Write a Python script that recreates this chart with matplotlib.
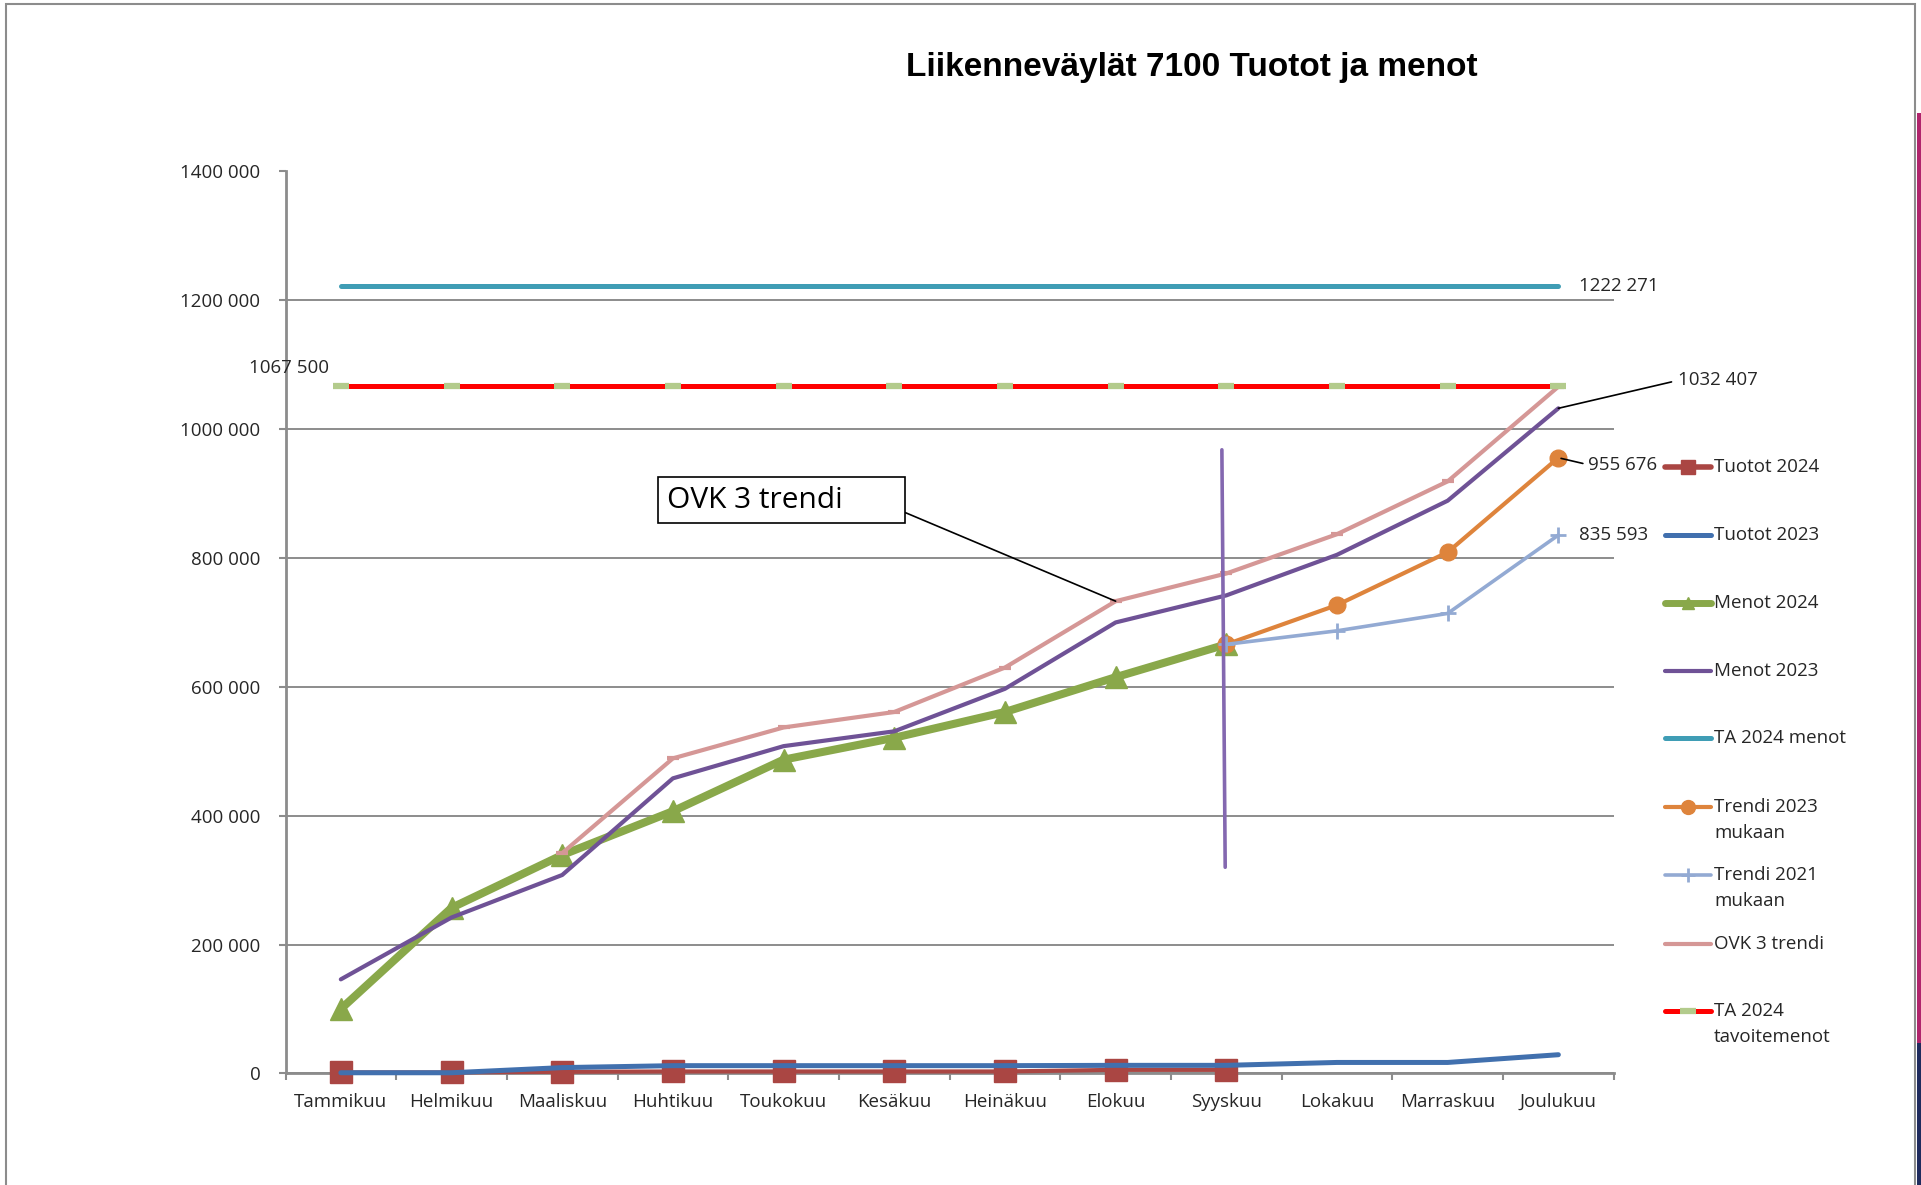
import numpy as np
import matplotlib
matplotlib.use("Agg")
import matplotlib.pyplot as plt
from matplotlib.lines import Line2D
from matplotlib.patches import Rectangle
from matplotlib import font_manager

# ---------------- data ----------------
months = ["Tammikuu", "Helmikuu", "Maaliskuu", "Huhtikuu", "Toukokuu", "Kesäkuu",
          "Heinäkuu", "Elokuu", "Syyskuu", "Lokakuu", "Marraskuu", "Joulukuu"]

tuotot_2024 = [1500, 1500, 2500, 3000, 3000, 3000, 3000, 5500, 5500]
tuotot_2023 = [1000, 1000, 9000, 12000, 12000, 12000, 12000, 12500, 12500, 17000, 17000, 29000]
menot_2024 = [100000, 257000, 339000, 407000, 487000, 521000, 561000, 615000, 666000]
menot_2023 = [146000, 242000, 308000, 458000, 508000, 531000, 597000, 700000, 742000,
              805000, 889000, 1032407]
ta_2024_menot = [1222271] * 12
trendi_2023_start = 8
trendi_2023 = [666000, 727000, 809000, 955676]
trendi_2021_start = 8
trendi_2021 = [666000, 687000, 714000, 835593]
ovk3_start = 2
ovk3_trendi = [342000, 489000, 537000, 561000, 630000, 733000, 776000, 837000, 919000, 1066000]
ta_2024_tavoite = [1067500] * 12

# hand-drawn vertical divider at Syyskuu
cut_line_month = [7.96, 7.99]
cut_line_value = [968000, 320000]

y_ticks = [0, 200000, 400000, 600000, 800000, 1000000, 1200000, 1400000]
title = "Liikenneväylät 7100 Tuotot ja menot"

# ---------------- style ----------------
C_T24 = "#AA4643"
C_T23 = "#4170AE"
C_M24 = "#89A84A"
C_M23 = "#6F5296"
C_TA = "#3F9DB5"
C_TR23 = "#DE843C"
C_TR21 = "#93AAD3"
C_OVK = "#D59796"
C_TAV = "#FF0000"
C_TAV_M = "#B3CB8C"
C_CUT = "#8468B0"
GRID = "#8C8C8C"
TXT = "#262626"

plt.rcParams['font.family'] = ['Open Sans', 'DejaVu Sans']
fonts = {f.name for f in font_manager.fontManager.ttflist}
if 'Liberation Sans Narrow' in fonts:
    title_family, title_size = ['Liberation Sans Narrow', 'DejaVu Sans'], 29
else:
    title_family, title_size = ['Liberation Sans', 'DejaVu Sans'], 24

W, H = 1921, 1185
fig = plt.figure(figsize=(W / 100, H / 100), dpi=100)
fig.patch.set_facecolor("white")
L, R, T, B = 285.5, 1613.7, 171.5, 1073.4
ax = fig.add_axes([L / W, 1 - B / H, (R - L) / W, (B - T) / H])


def xpos(start, vals):
    return np.arange(start, start + len(vals))


ax.plot(xpos(0, tuotot_2024), tuotot_2024, color=C_T24, lw=3, marker='s', ms=16,
        solid_capstyle='round', clip_on=False)
ax.plot(xpos(0, tuotot_2023), tuotot_2023, color=C_T23, lw=3.6, solid_capstyle='round',
        clip_on=False)
ax.plot(xpos(0, menot_2024), menot_2024, color=C_M24, lw=5.8, marker='^', ms=16,
        solid_capstyle='round')
ax.plot(xpos(0, menot_2023), menot_2023, color=C_M23, lw=3, solid_capstyle='round')
ax.plot(xpos(0, ta_2024_menot), ta_2024_menot, color=C_TA, lw=3.6, solid_capstyle='round')
ax.plot(xpos(trendi_2023_start, trendi_2023), trendi_2023, color=C_TR23, lw=3,
        marker='o', ms=12, solid_capstyle='round')
ax.plot(xpos(trendi_2021_start, trendi_2021), trendi_2021, color=C_TR21, lw=2.6,
        marker='+', ms=12, mew=2, solid_capstyle='round')
ax.plot(xpos(ovk3_start, ovk3_trendi), ovk3_trendi, color=C_OVK, lw=3, marker='_',
        ms=8, mew=3, solid_capstyle='round')
ax.plot(xpos(0, ta_2024_tavoite), ta_2024_tavoite, color=C_TAV, lw=3.6, marker='_',
        ms=12, mew=4.5, mec=C_TAV_M)
ax.plot(cut_line_month, cut_line_value, color=C_CUT, lw=2.6, solid_capstyle='round')

# axes
ax.set_xlim(-0.5, len(months) - 0.5)
ax.set_ylim(0, 1400000)
ax.set_yticks(y_ticks)
ax.set_yticklabels(["0" if v == 0 else f"{v // 1000} {v % 1000:03d}" for v in y_ticks])
ax.set_xticks(np.arange(len(months)))
ax.set_xticklabels(months)
ax.set_xticks(np.arange(-0.5, len(months)), minor=True)
ax.tick_params(axis='y', length=5, width=1.5, color=GRID, pad=13, labelsize=13.5,
               labelcolor=TXT)
ax.tick_params(axis='x', which='major', length=0, pad=14, labelsize=13.5, labelcolor=TXT)
ax.tick_params(axis='x', which='minor', length=5, width=1.5, color=GRID)
ax.grid(axis='y', color=GRID, lw=1.4)
ax.set_axisbelow(True)
for s in ['top', 'right']:
    ax.spines[s].set_visible(False)
for s in ['left', 'bottom']:
    ax.spines[s].set_color(GRID)
    ax.spines[s].set_linewidth(2)
    ax.spines[s].set_zorder(1.5)

# data labels
lab = dict(textcoords='offset pixels', fontsize=13.5, color=TXT, va='center')
last = len(months) - 1
ax.annotate("1222 271", xy=(last, ta_2024_menot[-1]), xytext=(21, 0), ha='left', **lab)
ax.annotate("835 593", xy=(last, trendi_2021[-1]), xytext=(21, 0), ha='left', **lab)
ax.annotate("955 676", xy=(last, trendi_2023[-1]), xytext=(30, -7), ha='left',
            arrowprops=dict(arrowstyle='-', color='black', lw=1.2, shrinkA=2, shrinkB=2,
                            relpos=(0, 0.5)), **lab)
ax.annotate("1032 407", xy=(last, menot_2023[-1]), xytext=(120, 28), ha='left',
            arrowprops=dict(arrowstyle='-', color='black', lw=1.2, shrinkA=3, shrinkB=0,
                            relpos=(0, 0.5)), **lab)
ax.annotate("1067 500", xy=(0, ta_2024_tavoite[0]), xytext=(-12, 18), ha='right', **lab)

ax.annotate("OVK 3 trendi" + " " * 7, xy=(7, ovk3_trendi[7 - ovk3_start]),
            xytext=(-449, 101), textcoords='offset pixels', ha='left', va='center',
            fontsize=21.5, color='black',
            bbox=dict(boxstyle='square,pad=0.28', fc='white', ec='black', lw=1.2),
            arrowprops=dict(arrowstyle='-', color='black', lw=1.2, shrinkA=0, shrinkB=0,
                            relpos=(1, 0.2)))

# title
fig.text(1192 / W, 1 - 67.4 / H, title, ha='center', va='center', fontsize=title_size,
         fontweight='bold', family=title_family, color='black')

# legend (Excel-style, first text line aligned with handle)
legend_items = [
    ("Tuotot 2024", dict(color=C_T24, lw=4, marker='s', ms=10)),
    ("Tuotot 2023", dict(color=C_T23, lw=3.6)),
    ("Menot 2024", dict(color=C_M24, lw=5, marker='^', ms=9)),
    ("Menot 2023", dict(color=C_M23, lw=3)),
    ("TA 2024 menot", dict(color=C_TA, lw=3.6)),
    ("Trendi 2023\nmukaan", dict(color=C_TR23, lw=3, marker='o', ms=10)),
    ("Trendi 2021\nmukaan", dict(color=C_TR21, lw=2.6, marker='+', ms=10, mew=2)),
    ("OVK 3 trendi", dict(color=C_OVK, lw=3)),
    ("TA 2024\ntavoitemenot", dict(color=C_TAV, lw=3.6, marker='_', ms=12, mew=4.5,
                                    mec=C_TAV_M)),
]
leg_y = [467, 535, 603, 671, 738, 807, 875, 944, 1011]
hx0, hx1, tx = 1665, 1711, 1714
for (label, style), yy in zip(legend_items, leg_y):
    yf = 1 - yy / H
    fig.add_artist(Line2D([hx0 / W, (hx0 + hx1) / 2 / W, hx1 / W], [yf, yf, yf],
                          transform=fig.transFigure, markevery=[1],
                          solid_capstyle='round', **style))
    for k, line in enumerate(label.split("\n")):
        fig.text(tx / W, 1 - (yy + 25.7 * k) / H, line, ha='left', va='center',
                 fontsize=13.5, color=TXT)

# page frame and right strip (screenshot border)
fig.add_artist(Rectangle((6 / W, -0.05), (1915 - 6) / W, 1 - 4 / H + 0.05,
                         transform=fig.transFigure, fill=False, ec='#8C8C8C', lw=1.5))
fig.add_artist(Rectangle((1917 / W, 1 - 1043 / H), 4 / W, (1043 - 113) / H,
                         transform=fig.transFigure, fc='#B0246C', ec='none'))
fig.add_artist(Rectangle((1917 / W, 0), 4 / W, 1 - 1043 / H,
                         transform=fig.transFigure, fc='#1F2B5E', ec='none'))

fig.savefig("out.png", dpi=100)
